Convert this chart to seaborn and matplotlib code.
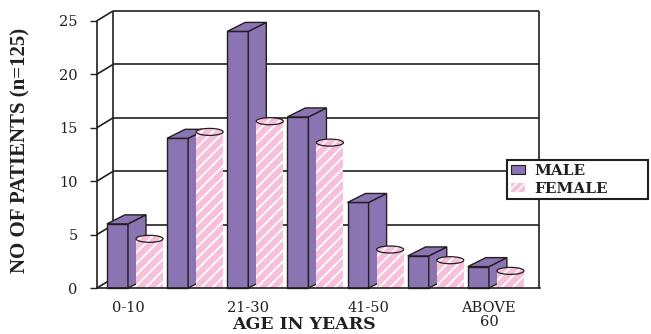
import numpy as np
import pandas as pd
import matplotlib
matplotlib.use("Agg")
import matplotlib.pyplot as plt
import seaborn as sns
from matplotlib.patches import Polygon, Ellipse, Patch
from matplotlib.lines import Line2D

# ---------------- data ----------------
age_groups = ["0-10", "11-20", "21-30", "31-40", "41-50", "51-60", "ABOVE\n60"]
shown_labels = ["0-10", "", "21-30", "", "41-50", "", "ABOVE\n60"]
series = ["MALE", "FEMALE"]
male = [6, 14, 24, 16, 8, 3, 2]
female = [4, 14, 15, 13, 3, 2, 1]
y_ticks = [0, 5, 10, 15, 20, 25]

PURPLE = "#8B74B2"
PINK = "#F6C0DA"
INK = "#231F20"

df = pd.DataFrame({
    "age": age_groups * 2,
    "sex": [series[0]] * len(male) + [series[1]] * len(female),
    "count": male + female,
})

sns.set_theme(style="white")
plt.rcParams["font.family"] = ["DejaVu Serif", "DejaVu Sans"]
plt.rcParams["hatch.linewidth"] = 1.3

W, H = 651, 334
fig = plt.figure(figsize=(W / 100, H / 100), dpi=100)
# front plotting plane (pixels)
L, R, B, T = 97, 540, 288, 20.7
ax = fig.add_axes([L / W, 1 - B / H, (R - L) / W, (B - T) / H])

sns.barplot(data=df, x="age", y="count", hue="sex", order=age_groups,
            hue_order=series, palette=[PURPLE, PINK], width=0.7,
            saturation=1, errorbar=None, legend=False, ax=ax)

PXU = 60.15                      # pixels per category unit
PYU = (B - T) / 25.0             # pixels per value unit
xl = (L - 128) / PXU
xr = (R - 128) / PXU
ax.set_xlim(xl, xr)
ax.set_ylim(0, 25)

# depth offsets
DXb, DYb = 18 / PXU, 9 / PYU
DXw, DYw = 16 / PXU, 9.7 / PYU
CYL_DY = 0.6
CYL_SHIFT = 8 / PXU
CYL_W = 27 / PXU
ELL_H = 7 / PYU
xw_right = (539 - 128) / PXU

# ---------------- walls ----------------
wall_kw = dict(color=INK, lw=1.2, zorder=1, clip_on=False, solid_capstyle="butt")
for v in y_ticks:
    ax.add_line(Line2D([xl, xl + DXw], [v, v + DYw], **wall_kw))
    if v > 0:
        ax.add_line(Line2D([xl + DXw, xw_right], [v + DYw, v + DYw], **wall_kw))
ax.add_line(Line2D([xl + DXw, xl + DXw], [DYw, 25 + DYw], **wall_kw))
ax.add_line(Line2D([xw_right, xw_right], [0, 25 + DYw], **wall_kw))

# ---------------- male boxes ----------------
for i, r in enumerate(ax.containers[0]):
    x0, w, h = r.get_x(), r.get_width(), r.get_height()
    x1 = x0 + w
    z = 3 + i
    r.set(facecolor=PURPLE, edgecolor=INK, linewidth=1.0, zorder=z,
          joinstyle="miter", clip_on=False)
    side = Polygon([(x1, 0), (x1 + DXb, DYb), (x1 + DXb, h + DYb), (x1, h)],
                   closed=True, fc=PURPLE, ec=INK, lw=1.0, zorder=z,
                   joinstyle="miter", clip_on=False)
    top = Polygon([(x0, h), (x0 + DXb, h + DYb), (x1 + DXb, h + DYb), (x1, h)],
                  closed=True, fc=PURPLE, ec=INK, lw=1.0, zorder=z,
                  joinstyle="miter", clip_on=False)
    ax.add_patch(side)
    ax.add_patch(top)

# ---------------- female cylinders ----------------
for i, r in enumerate(ax.containers[1]):
    h = r.get_height()
    x0 = r.get_x() + CYL_SHIFT
    z = 3.5 + i
    r.set_x(x0)
    r.set_width(CYL_W)
    r.set_y(0)
    r.set_height(h + CYL_DY)
    r.set(facecolor=PINK, edgecolor="white", linewidth=0, hatch="///",
          zorder=z, clip_on=False)
    cx = x0 + CYL_W / 2
    ax.add_patch(Ellipse((cx, h + CYL_DY), CYL_W, ELL_H, fc=PINK, ec="white",
                         lw=0, hatch="///", zorder=z + 0.1, clip_on=False))
    ax.add_patch(Ellipse((cx, h + CYL_DY), CYL_W, ELL_H, fill=False, ec=INK,
                         lw=0.9, zorder=z + 0.2, clip_on=False))

# ---------------- axes styling ----------------
for s in ["top", "right"]:
    ax.spines[s].set_visible(False)
for s in ["left", "bottom"]:
    ax.spines[s].set_color(INK)
    ax.spines[s].set_linewidth(1.2)
    ax.spines[s].set_zorder(20)

ax.set_xticks(range(len(age_groups)))
ax.set_xticklabels(shown_labels, fontfamily="DejaVu Serif", fontsize=10.5,
                   linespacing=0.95, color=INK)
ax.tick_params(axis="x", length=0, pad=9.5, bottom=False)
ax.set_yticks(y_ticks)
ax.set_yticklabels([str(v) for v in y_ticks], fontfamily="DejaVu Serif",
                   fontsize=10.5, color=INK)
ax.tick_params(axis="y", left=True, length=5, width=1.0, color=INK,
               direction="out", pad=9)

ax.set_xlabel("AGE IN YEARS", fontfamily="DejaVu Serif", fontweight="bold",
              fontsize=12.5, color=INK)
ax.xaxis.set_label_coords(0.467, (B - 316) / (B - T))
ax.set_ylabel("NO OF PATIENTS (n=125)", fontfamily="Liberation Serif",
              fontweight="bold", fontsize=15, color=INK)
ax.yaxis.label.set_va("center")
ax.yaxis.set_label_coords((20 - L) / (R - L), (B - 150) / (B - T))

handles = [Patch(facecolor=PURPLE, edgecolor=INK, linewidth=0.8),
           Patch(facecolor=PINK, edgecolor="white", linewidth=0, hatch="////")]
leg = ax.legend(handles, series, loc="upper left",
                bbox_to_anchor=(507 / W, 1 - 200 / H, 141 / W, 40 / H),
                bbox_transform=fig.transFigure, mode="expand", borderaxespad=0,
                prop={"family": "DejaVu Serif", "weight": "bold", "size": 11},
                handlelength=0.95, handleheight=0.5, handletextpad=0.6,
                labelspacing=0.25, borderpad=0.25, fancybox=False, framealpha=1,
                shadow=False)
leg.get_frame().set_edgecolor(INK)
leg.get_frame().set_linewidth(1.5)
leg.set_zorder(30)
for t in leg.get_texts():
    t.set_color(INK)

fig.savefig("out.png", dpi=100)
